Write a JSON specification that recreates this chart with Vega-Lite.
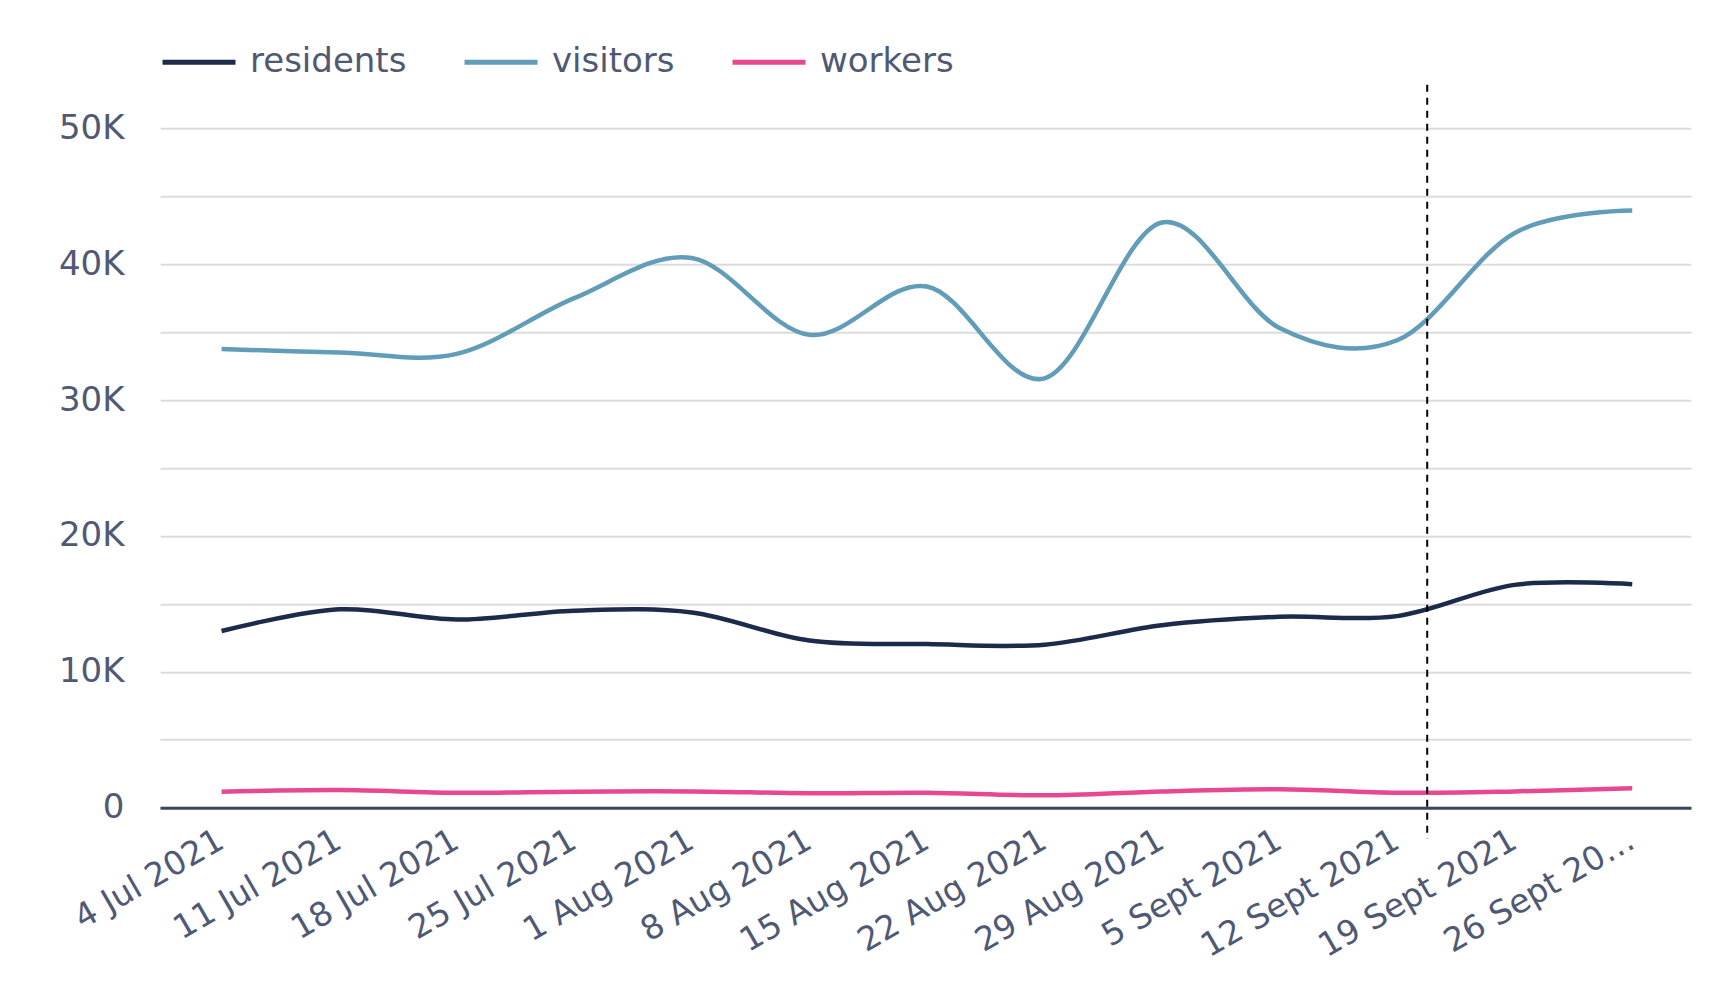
{
  "$schema": "https://vega.github.io/schema/vega-lite/v6.json",
  "width": 1531,
  "height": 679.4,
  "autosize": {"type": "none"},
  "padding": {"left": 160, "top": 128.3, "right": 30, "bottom": 182.3},
  "background": "white",
  "config": {"view": {"stroke": null}, "font": "DejaVu Sans"},
  "datasets": {
    "series": [
      {"date": "2021-07-04", "group": "residents", "value": 13000},
      {"date": "2021-07-11", "group": "residents", "value": 14600},
      {"date": "2021-07-18", "group": "residents", "value": 13850},
      {"date": "2021-07-25", "group": "residents", "value": 14500},
      {"date": "2021-08-01", "group": "residents", "value": 14370},
      {"date": "2021-08-08", "group": "residents", "value": 12300},
      {"date": "2021-08-15", "group": "residents", "value": 12040},
      {"date": "2021-08-22", "group": "residents", "value": 12000},
      {"date": "2021-08-29", "group": "residents", "value": 13430},
      {"date": "2021-09-05", "group": "residents", "value": 14050},
      {"date": "2021-09-12", "group": "residents", "value": 14100},
      {"date": "2021-09-19", "group": "residents", "value": 16400},
      {"date": "2021-09-26", "group": "residents", "value": 16450},
      {"date": "2021-07-04", "group": "visitors", "value": 33750},
      {"date": "2021-07-11", "group": "visitors", "value": 33500},
      {"date": "2021-07-18", "group": "visitors", "value": 33400},
      {"date": "2021-07-25", "group": "visitors", "value": 37500},
      {"date": "2021-08-01", "group": "visitors", "value": 40450},
      {"date": "2021-08-08", "group": "visitors", "value": 34800},
      {"date": "2021-08-15", "group": "visitors", "value": 38360},
      {"date": "2021-08-22", "group": "visitors", "value": 31600},
      {"date": "2021-08-29", "group": "visitors", "value": 43070},
      {"date": "2021-09-05", "group": "visitors", "value": 35300},
      {"date": "2021-09-12", "group": "visitors", "value": 34400},
      {"date": "2021-09-19", "group": "visitors", "value": 42300},
      {"date": "2021-09-26", "group": "visitors", "value": 43950},
      {"date": "2021-07-04", "group": "workers", "value": 1180},
      {"date": "2021-07-11", "group": "workers", "value": 1300},
      {"date": "2021-07-18", "group": "workers", "value": 1100},
      {"date": "2021-07-25", "group": "workers", "value": 1180},
      {"date": "2021-08-01", "group": "workers", "value": 1200},
      {"date": "2021-08-08", "group": "workers", "value": 1060},
      {"date": "2021-08-15", "group": "workers", "value": 1100},
      {"date": "2021-08-22", "group": "workers", "value": 910},
      {"date": "2021-08-29", "group": "workers", "value": 1200},
      {"date": "2021-09-05", "group": "workers", "value": 1350},
      {"date": "2021-09-12", "group": "workers", "value": 1100},
      {"date": "2021-09-19", "group": "workers", "value": 1200},
      {"date": "2021-09-26", "group": "workers", "value": 1430}
    ],
    "marker": [
      {"date": "2021-09-13T19:00:00Z"}
    ]
  },
  "layer": [
    {
      "data": {"name": "series"},
      "mark": {"type": "line", "interpolate": "cardinal", "tension": 0, "strokeWidth": 4.5},
      "encoding": {
        "x": {
          "field": "date",
          "type": "temporal",
          "scale": {
            "type": "utc",
            "domain": [
              {"year": 2021, "month": 6, "date": 30, "hours": 8, "utc": true},
              {"year": 2021, "month": 9, "date": 29, "hours": 12, "utc": true}
            ]
          },
          "axis": {
            "title": null,
            "values": [
              {"year": 2021, "month": 7, "date": 4, "utc": true},
              {"year": 2021, "month": 7, "date": 11, "utc": true},
              {"year": 2021, "month": 7, "date": 18, "utc": true},
              {"year": 2021, "month": 7, "date": 25, "utc": true},
              {"year": 2021, "month": 8, "date": 1, "utc": true},
              {"year": 2021, "month": 8, "date": 8, "utc": true},
              {"year": 2021, "month": 8, "date": 15, "utc": true},
              {"year": 2021, "month": 8, "date": 22, "utc": true},
              {"year": 2021, "month": 8, "date": 29, "utc": true},
              {"year": 2021, "month": 9, "date": 5, "utc": true},
              {"year": 2021, "month": 9, "date": 12, "utc": true},
              {"year": 2021, "month": 9, "date": 19, "utc": true},
              {"year": 2021, "month": 9, "date": 26, "utc": true}
            ],
            "labelExpr": "(utcmonth(datum.value) == 8 && utcdate(datum.value) == 26) ? '26 Sept 20…' : utcdate(datum.value) + ' ' + (utcmonth(datum.value) == 8 ? 'Sept' : utcFormat(datum.value, '%b')) + ' ' + utcyear(datum.value)",
            "labelAngle": -30,
            "labelAlign": "right",
            "labelBaseline": "top",
            "labelPadding": 16,
            "labelOffset": -9,
            "labelFontSize": 33,
            "labelColor": "#4f5974",
            "labelLimit": 400,
            "labelOverlap": false,
            "labelBound": false,
            "labelFlush": false,
            "grid": false,
            "ticks": false,
            "domainColor": "#3c4660",
            "domainWidth": 3
          }
        },
        "y": {
          "field": "value",
          "type": "quantitative",
          "scale": {"domain": [0, 50000]},
          "axis": {
            "title": null,
            "values": [0, 5000, 10000, 15000, 20000, 25000, 30000, 35000, 40000, 45000, 50000],
            "labelExpr": "datum.value % 10000 == 0 ? (datum.value == 0 ? '0' : (datum.value / 1000) + 'K') : ''",
            "grid": true,
            "gridColor": "#dcdcdc",
            "gridWidth": 2,
            "domain": false,
            "ticks": false,
            "labelPadding": 36,
            "labelFontSize": 34,
            "labelColor": "#4f5974"
          }
        },
        "color": {
          "field": "group",
          "type": "nominal",
          "scale": {
            "domain": ["residents", "visitors", "workers"],
            "range": ["#1c2b4b", "#619cb8", "#e8488f"]
          },
          "legend": {
            "orient": "top",
            "direction": "horizontal",
            "title": null,
            "symbolType": "stroke",
            "symbolSize": 5329,
            "symbolStrokeWidth": 5,
            "labelFontSize": 34,
            "labelColor": "#4f5974",
            "labelOffset": 12,
            "columnPadding": 47,
            "offset": 49,
            "padding": 0,
            "labelLimit": 400
          }
        }
      }
    },
    {
      "data": {"name": "marker"},
      "mark": {"type": "rule", "strokeDash": [7, 6], "strokeWidth": 2, "color": "black", "clip": false},
      "encoding": {
        "x": {"field": "date", "type": "temporal"},
        "y": {"datum": 53200, "type": "quantitative"},
        "y2": {"datum": -2300}
      }
    }
  ]
}
